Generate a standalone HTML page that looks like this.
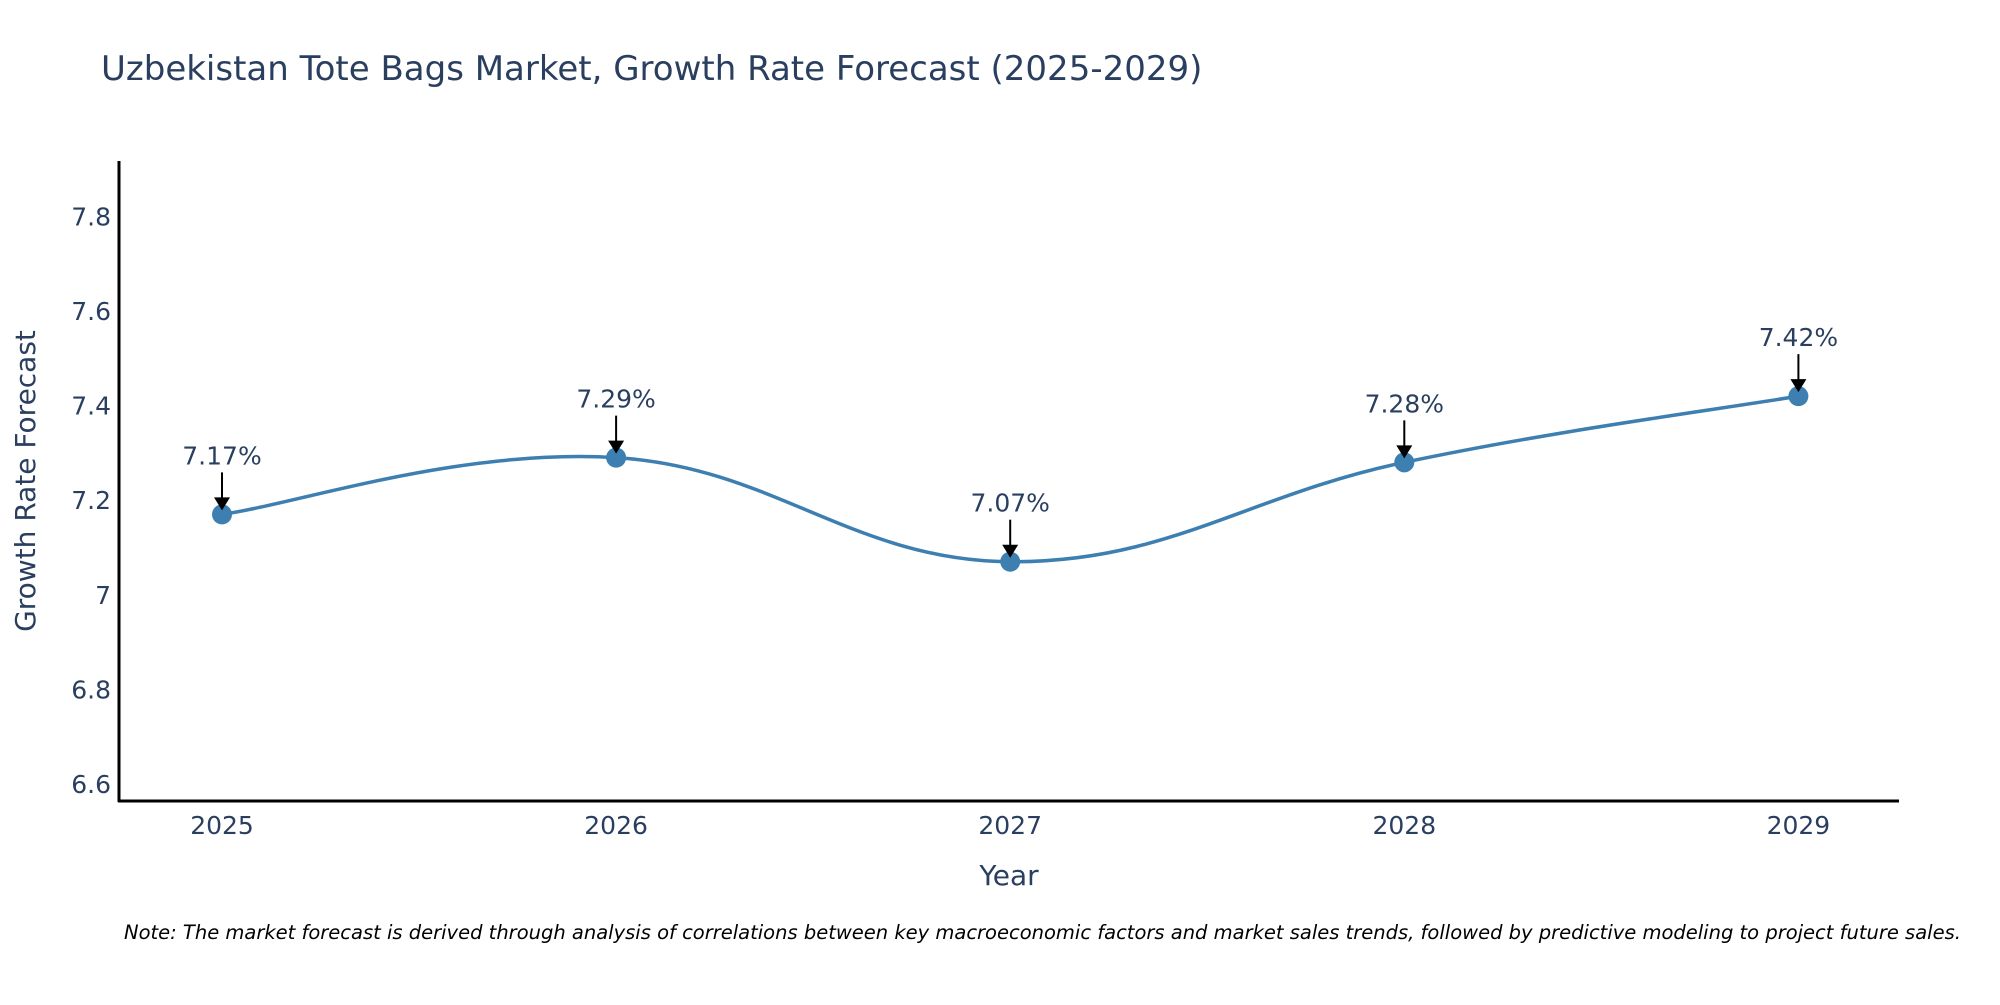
<!DOCTYPE html>
<html><head><meta charset="utf-8"><style>
body{margin:0;background:#fff;}
svg text{font-family:"DejaVu Sans","Liberation Sans",sans-serif;fill:#2a3f5f;}
</style></head><body>
<svg id="chart" width="2000" height="1000" viewBox="0 0 2000 1000" xmlns="http://www.w3.org/2000/svg">
<text x="101" y="80" font-size="34">Uzbekistan Tote Bags Market, Growth Rate Forecast (2025-2029)</text>
<g id="yticks"></g>
<g id="xticks"></g>
<line x1="119" y1="161" x2="119" y2="802" stroke="#000" stroke-width="3"/>
<line x1="118" y1="801" x2="1899" y2="801" stroke="#000" stroke-width="3"/>
<text transform="translate(35,481) rotate(-90)" text-anchor="middle" font-size="28">Growth Rate Forecast</text>
<text x="1009" y="885" text-anchor="middle" font-size="28">Year</text>
<g id="series"></g>
<g id="annots"></g>
<text x="124" y="939" font-size="19.5" font-style="italic" style="fill:#000">Note: The market forecast is derived through analysis of correlations between key macroeconomic factors and market sales trends, followed by predictive modeling to project future sales.</text>
</svg>
<script>
const years = [2025, 2026, 2027, 2028, 2029];
const values = [7.17, 7.29, 7.07, 7.28, 7.42];
const yTickValues = [6.6, 6.8, 7, 7.2, 7.4, 7.6, 7.8];
const yTickLabels = ["6.6", "6.8", "7", "7.2", "7.4", "7.6", "7.8"];
const NS = "http://www.w3.org/2000/svg";
function xScale(yr){ return 222 + (yr - 2025) * 394.1; }
function yScale(v){ return 784 - (v - 6.6) / 0.2 * 94.6; }
function mk(tag, attrs, parent){ const e = document.createElementNS(NS, tag); for (const k in attrs) e.setAttribute(k, attrs[k]); parent.appendChild(e); return e; }
const yt = document.getElementById('yticks');
yTickValues.forEach((v, i) => {
  const t = mk('text', {x: 111, y: yScale(v) + 9, 'text-anchor': 'end', 'font-size': 25}, yt);
  
  
  t.textContent = yTickLabels[i];
});
const xt = document.getElementById('xticks');
years.forEach(yr => {
  const t = mk('text', {x: xScale(yr), y: 834, 'text-anchor': 'middle', 'font-size': 25}, xt);
  
  
  t.textContent = String(yr);
});
const pts = years.map((yr, i) => [xScale(yr), yScale(values[i])]);
let d = `M${pts[0][0]},${pts[0][1]}`;
const s = 0.2;
for (let i = 0; i < pts.length - 1; i++) {
  const p0 = pts[Math.max(i - 1, 0)], p1 = pts[i], p2 = pts[i + 1], p3 = pts[Math.min(i + 2, pts.length - 1)];
  const c1 = [p1[0] + (p2[0] - p0[0]) * s, p1[1] + (p2[1] - p0[1]) * s];
  const c2 = [p2[0] - (p3[0] - p1[0]) * s, p2[1] - (p3[1] - p1[1]) * s];
  d += ` C${c1[0]},${c1[1]} ${c2[0]},${c2[1]} ${p2[0]},${p2[1]}`;
}
const g = document.getElementById('series');
const line = mk('path', {d: d, fill: 'none', stroke: '#3d7fb1', 'stroke-width': 3.5}, g);


const an = document.getElementById('annots');
pts.forEach((p, i) => {
  const c = mk('circle', {cx: p[0], cy: p[1], r: 10, fill: '#3d7fb1'}, g);
  
  
  const a = mk('line', {x1: p[0], y1: p[1] - 42, x2: p[0], y2: p[1] - 14, stroke: '#000', 'stroke-width': 2}, an);
  
  
  const h = mk('polygon', {points: `${p[0]-8},${p[1]-17} ${p[0]+8},${p[1]-17} ${p[0]},${p[1]-4}`, fill: '#000'}, an);
  
  
  const t = mk('text', {x: p[0], y: p[1] - 50, 'text-anchor': 'middle', 'font-size': 25}, an);
  
  
  t.textContent = values[i].toFixed(2) + '%';
});
</script>
</body></html>
